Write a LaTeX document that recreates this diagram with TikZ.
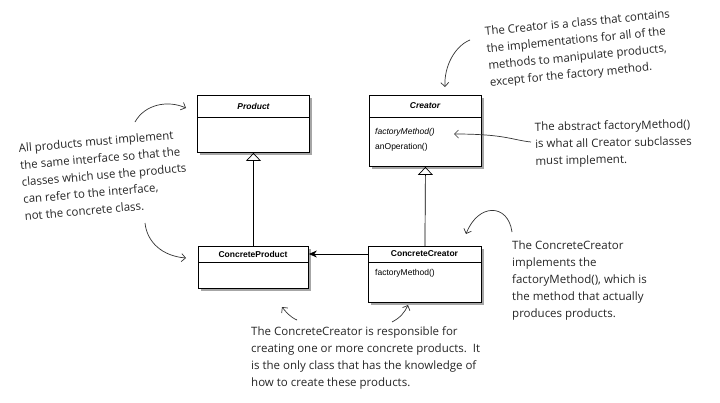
\documentclass[tikz,border=0pt]{standalone}
\usepackage{fontspec}
\setmainfont{Open Sans}
\newfontfamily\umlfont{Liberation Sans}
\usetikzlibrary{arrows.meta,shadows}
\begin{document}
\begin{tikzpicture}[x=1pt,y=-1pt,
  umlbox/.style={draw, line width=0.9pt, fill=white, anchor=north west, inner sep=0pt,
    drop shadow={shadow xshift=3pt, shadow yshift=-3pt, opacity=0.35, fill=black}},
  umltext/.style={font=\umlfont\fontsize{8.5}{10}\selectfont, inner sep=0pt},
  note/.style={font=\fontsize{11.5}{17}\selectfont, align=left, inner sep=0pt, text=black!85},
  hand/.style={-{Straight Barb[length=4pt,width=8pt]}, line width=0.7pt, black!80},
  inherit/.style={-{Triangle[open,length=8pt,width=15pt]}, line width=0.7pt},
  assoc/.style={-{Stealth[length=8pt,width=7pt]}, line width=0.7pt}
]
\useasboundingbox (0,0) rectangle (720,402);
\fill[white] (0,0) rectangle (720,402);

% UML boxes
\node[umlbox, minimum width=112pt, minimum height=57pt] (product) at (197,95) {};
\node[umlbox, minimum width=112pt, minimum height=71pt] (creator) at (369,95) {};
\node[umlbox, minimum width=110pt, minimum height=42pt] (cproduct) at (198,246) {};
\node[umlbox, minimum width=113pt, minimum height=56pt] (ccreator) at (368,246) {};

\draw[line width=0.9pt] (product.west |- 0,117) -- (product.east |- 0,117);
\draw[line width=0.9pt] (creator.west |- 0,117) -- (creator.east |- 0,117);
\draw[line width=0.9pt] (cproduct.west |- 0,262) -- (cproduct.east |- 0,262);
\draw[line width=0.9pt] (ccreator.west |- 0,262) -- (ccreator.east |- 0,262);

\node[umltext] (pt) at (253.5,106) {\bfseries\itshape Product};
\node[umltext] (ct) at (425,106) {\bfseries\itshape Creator};
\node[umltext] (cpt) at (253,254) {\bfseries ConcreteProduct};
\node[umltext] (cct) at (424.5,254) {\bfseries ConcreteCreator};
\node[umltext, anchor=west] (cfm) at (375,132) {\itshape factoryMethod()};
\node[umltext, anchor=west] (cao) at (375,147) {anOperation()};
\node[umltext, anchor=west] (ccfm) at (375,273) {factoryMethod()};

% connectors
\draw[inherit] (cproduct.north) -- (product.south);
\draw[inherit] (ccreator.north) -- (creator.south);
\draw[assoc] (cct.west -| ccreator.west) -- (cpt.east -| cproduct.east);

% annotations
\node[note, rotate=5] (n1) at (104,175) {All products must implement\\the same interface so that the\\classes which use the products\\can refer to the interface,\\not the concrete class.};
\node[note, rotate=5.5] (n2) at (580,49) {The Creator is a class that contains\\the implementations for all of the\\methods to manipulate products,\\except for the factory method.};
\node[note, rotate=1, anchor=west] (n3) at (535,145) {The abstract factoryMethod()\\is what all Creator subclasses\\must implement.};
\node[note, anchor=west] (n4) at (512,281) {The ConcreteCreator\\implements the\\factoryMethod(), which is\\the method that actually\\produces products.};
\node[note, anchor=west] (n5) at (251,358) {The ConcreteCreator is responsible for\\creating one or more concrete products.\ \ It\\is the only class that has the knowledge of\\how to create these products.};

% annotation arrows
\coordinate (a1s) at (135,122); \coordinate (a1e) at (186,108);
\draw[hand] (a1s) .. controls (145,104) and (168,100) .. (a1e);
\coordinate (a2s) at (145,223); \coordinate (a2e) at (186,258);
\draw[hand] (a2s) .. controls (147,242) and (162,256) .. (a2e);
\coordinate (a3s) at (470,40); \coordinate (a3e) at (445,87);
\draw[hand] (a3s) .. controls (455,46) and (444,66) .. (a3e);
\coordinate (a4s) at (531,142); \coordinate (a4e) at (454,134);
\draw[hand] (a4s) .. controls (512,140) and (505,134) .. (a4e);
\coordinate (a5s) at (512,232); \coordinate (a5e) at (466,234);
\draw[hand] (a5s) .. controls (508,203) and (478,203) .. (a5e);
\coordinate (a6s) at (297,320); \coordinate (a6e) at (282,307);
\draw[hand] (a6s) .. controls (290,317) and (286,312) .. (a6e);
\coordinate (a7s) at (392,322); \coordinate (a7e) at (408,305);
\draw[hand] (a7s) .. controls (400,318) and (405,312) .. (a7e);
\end{tikzpicture}
\end{document}
